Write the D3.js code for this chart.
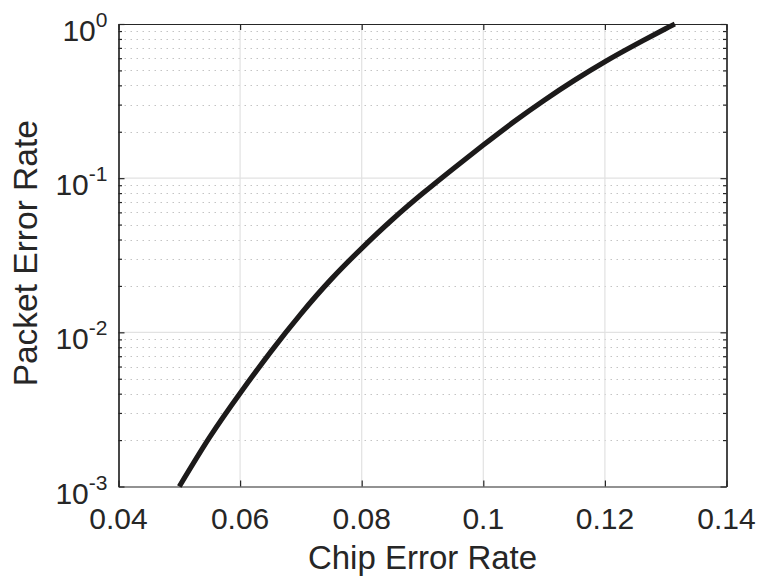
<!DOCTYPE html>
<html>
<head>
<meta charset="utf-8">
<script src="https://cdn.jsdelivr.net/npm/d3@7"></script>
<style>
  body { margin: 0; background: #fff; }
  svg { display: block; font-family: "Liberation Sans", Arial, Helvetica, sans-serif; }
  .tickText { fill: #262626; font-size: 30px; }
  .aText { fill: #262626; font-size: 33px; }
</style>
</head>
<body>
<div id="chart"></div>
<script>
// chip error rate (x) and packet error rate (y)
var chipErr = [0.050, 0.055, 0.060, 0.065, 0.070, 0.075, 0.080, 0.085, 0.090,
               0.095, 0.100, 0.105, 0.110, 0.115, 0.120, 0.125, 0.130, 0.1315];
var logPer  = [-3.000, -2.680, -2.395, -2.128, -1.880, -1.655, -1.455, -1.270, -1.100,
               -0.940, -0.785, -0.635, -0.495, -0.365, -0.245, -0.135, -0.030, 0.000];
var packetErr = logPer.map(function(v) { return Math.pow(10, v); });

var xTicks = [0.04, 0.06, 0.08, 0.1, 0.12, 0.14];
var xTickLabels = ["0.04", "0.06", "0.08", "0.1", "0.12", "0.14"];
var yTicks = [1e-3, 1e-2, 1e-1, 1];
var yExps = ["-3", "-2", "-1", "0"];

var width = 758, height = 579;
var pLeft = 118.5, pRight = 726.5, pTop = 24, pBottom = 486.5;

var svg = d3.select("#chart").append("svg")
    .attr("width", width)
    .attr("height", height);

var xScale = d3.scaleLinear().domain([0.04, 0.14]).range([pLeft, pRight]);
var yScale = d3.scaleLog().domain([1e-3, 1]).range([pBottom, pTop]);

// minor values for the log axis
var yMinor = [];
yTicks.slice(0, 3).forEach(function(t) {
  for (var k = 2; k <= 9; k++) yMinor.push(t * k);
});

// grid
var grid = svg.append("g").attr("class", "grid");
grid.selectAll("line.minor").data(yMinor).enter().append("line")
    .attr("class", "minor")
    .attr("x1", pLeft).attr("x2", pRight)
    .attr("y1", function(d) { return Math.round(yScale(d)) + 0.5; })
    .attr("y2", function(d) { return Math.round(yScale(d)) + 0.5; })
    .attr("stroke", "#c4c4c4")
    .attr("stroke-width", 1)
    .attr("stroke-dasharray", "1.5,4.5");
grid.selectAll("line.ymajor").data(yTicks.slice(1, 3)).enter().append("line")
    .attr("class", "ymajor")
    .attr("x1", pLeft).attr("x2", pRight)
    .attr("y1", function(d) { return yScale(d); })
    .attr("y2", function(d) { return yScale(d); })
    .attr("stroke", "#e2e2e2")
    .attr("stroke-width", 1.2);
grid.selectAll("line.xmajor").data(xTicks.slice(1, 5)).enter().append("line")
    .attr("class", "xmajor")
    .attr("y1", pTop).attr("y2", pBottom)
    .attr("x1", function(d) { return xScale(d); })
    .attr("x2", function(d) { return xScale(d); })
    .attr("stroke", "#e2e2e2")
    .attr("stroke-width", 1.2);

// axes (ticks inside, box on)
var axisColor = "#262626";
var xAxisB = d3.axisTop(xScale).tickValues(xTicks).tickFormat("").tickSizeInner(6).tickSizeOuter(0);
var xAxisT = d3.axisBottom(xScale).tickValues(xTicks).tickFormat("").tickSizeInner(6).tickSizeOuter(0);
var yAxisL = d3.axisRight(yScale).tickValues(yTicks).tickFormat("").tickSizeInner(6).tickSizeOuter(0);
var yAxisR = d3.axisLeft(yScale).tickValues(yTicks).tickFormat("").tickSizeInner(6).tickSizeOuter(0);
var yMinL = d3.axisRight(yScale).tickValues(yMinor).tickFormat("").tickSizeInner(3.5).tickSizeOuter(0);
var yMinR = d3.axisLeft(yScale).tickValues(yMinor).tickFormat("").tickSizeInner(3.5).tickSizeOuter(0);

function place(axis, tx, ty) {
  var g = svg.append("g").attr("transform", "translate(" + tx + "," + ty + ")").call(axis);
  g.selectAll("path, line").attr("stroke", axisColor).attr("stroke-width", 1.2);
  return g;
}
place(xAxisB, 0, pBottom);
place(xAxisT, 0, pTop);
place(yAxisL, pLeft, 0);
place(yAxisR, pRight, 0);
place(yMinL, pLeft, 0);
place(yMinR, pRight, 0);

// the curve
var line = d3.line()
    .x(function(d, i) { return xScale(chipErr[i]); })
    .y(function(d) { return yScale(d); })
    .curve(d3.curveNatural);
svg.append("path")
    .datum(packetErr)
    .attr("d", line)
    .attr("fill", "none")
    .attr("stroke", "#1c1a1a")
    .attr("stroke-width", 5.2)
    .attr("stroke-linecap", "butt");

// x tick labels
svg.append("g").selectAll("text").data(xTicks).enter().append("text")
    .attr("class", "tickText")
    .attr("x", function(d) { return xScale(d); })
    .attr("y", pBottom + 42)
    .attr("text-anchor", "middle")
    .text(function(d, i) { return xTickLabels[i]; });

// y tick labels 10^k
var yLab = svg.append("g").selectAll("text").data(yTicks).enter().append("text")
    .attr("class", "tickText")
    .attr("x", pLeft - 11)
    .attr("y", function(d) { return yScale(d) + 17; })
    .attr("text-anchor", "end");
yLab.append("tspan").text("10");
yLab.append("tspan")
    .attr("dy", -14)
    .attr("font-size", "21px")
    .text(function(d, i) { return yExps[i]; });

// axis titles
svg.append("text")
    .attr("class", "aText")
    .attr("x", (pLeft + pRight) / 2)
    .attr("y", 569)
    .attr("text-anchor", "middle")
    .text("Chip Error Rate");

svg.append("text")
    .attr("class", "aText")
    .style("font-size", "33.5px")
    .attr("transform", "translate(37," + ((pTop + pBottom) / 2 - 2) + ")rotate(-90)")
    .attr("text-anchor", "middle")
    .text("Packet Error Rate");
</script>
</body>
</html>
